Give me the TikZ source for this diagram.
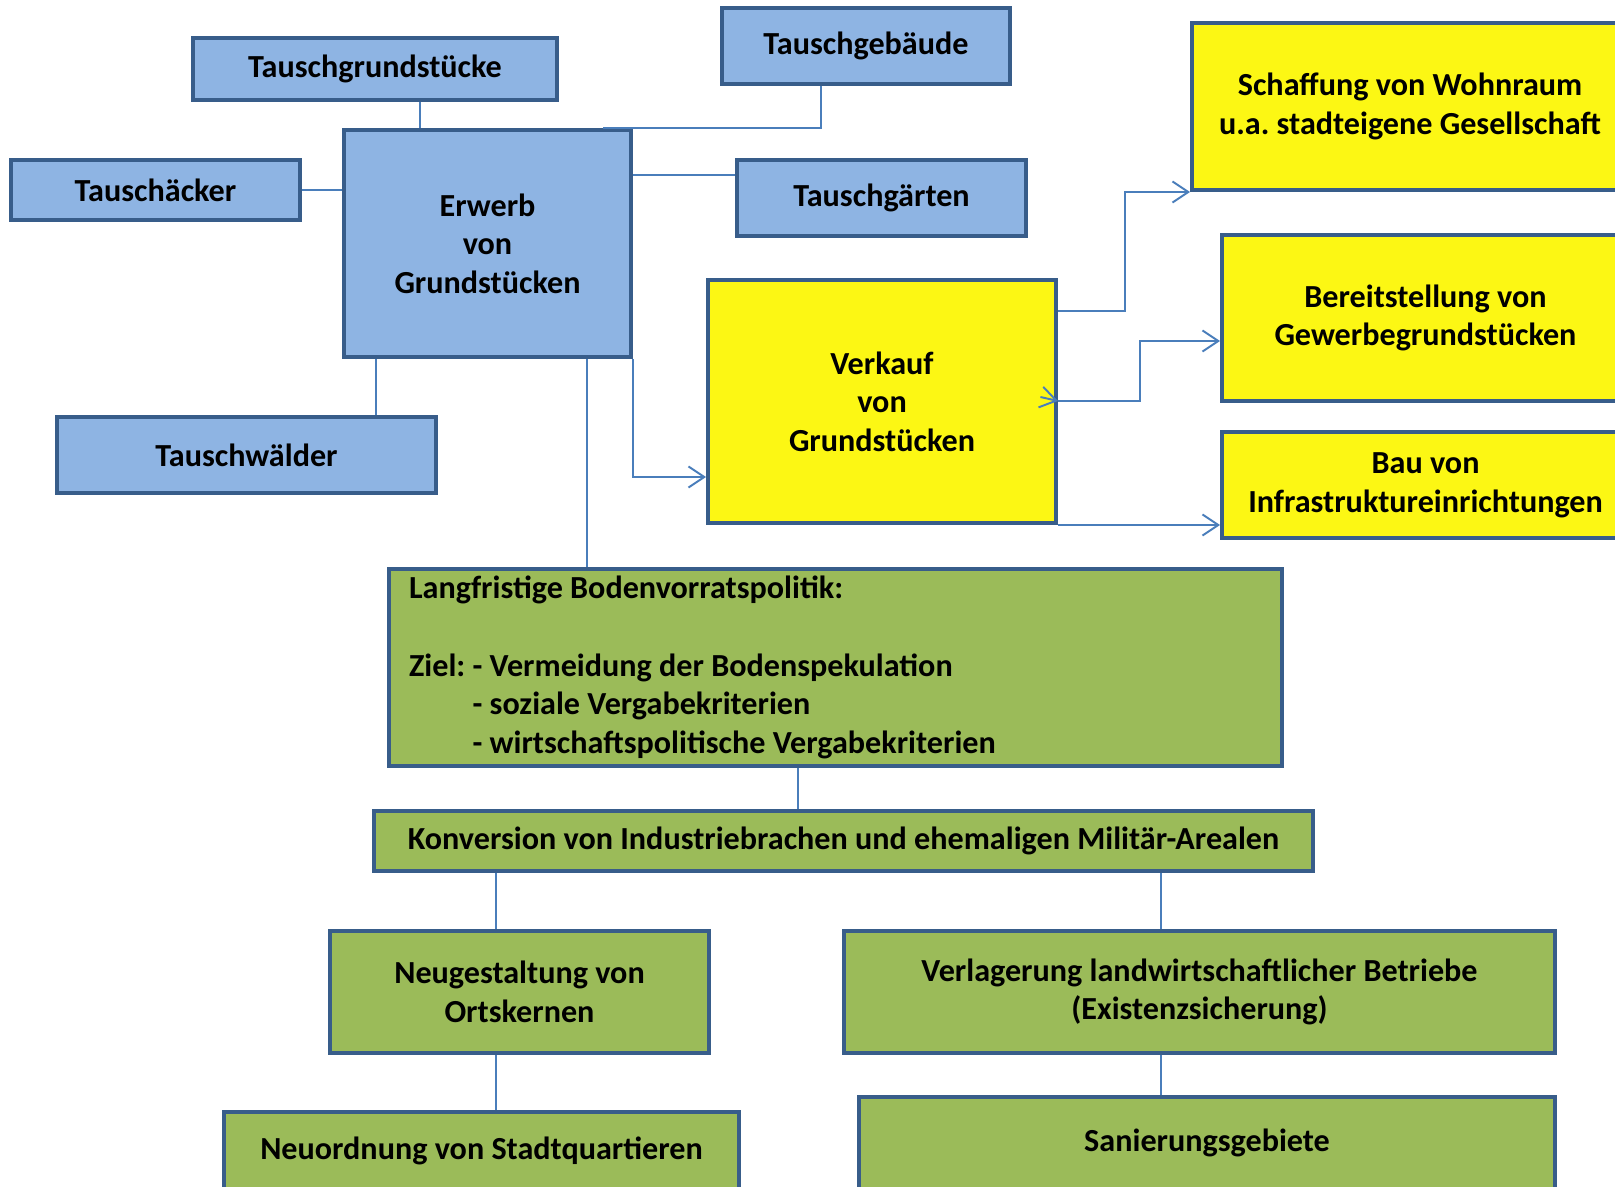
\documentclass[tikz,border=0pt]{standalone}
\usepackage{fontspec}
\setmainfont{Carlito}
\frenchspacing
\usetikzlibrary{arrows.meta, positioning}

\definecolor{boxblue}{RGB}{142,180,227}
\definecolor{boxline}{RGB}{56,93,138}
\definecolor{boxyellow}{RGB}{252,247,20}
\definecolor{boxgreen}{RGB}{155,187,89}
\definecolor{linkblue}{RGB}{74,126,187}

\tikzset{
    box/.style={draw=boxline, line width=2.3pt, align=center, inner sep=0pt,
        font=\fontsize{18.3}{22}\selectfont\bfseries},
    bluebox/.style={box, fill=boxblue},
    yellowbox/.style={box, fill=boxyellow},
    greenbox/.style={box, fill=boxgreen},
    link/.style={draw=linkblue, line width=1.1pt},
}

\begin{document}
\begin{tikzpicture}[x=0.02cm, y=-0.02cm, >={Straight Barb[length=9pt,width=12pt]}]
            \useasboundingbox (0,0) rectangle (1615,1186);

            % Erwerb und Tausch
            \node [bluebox, minimum width=5.74cm, minimum height=4.54cm] (erw) at (487.5,243.5) {Erwerb\\von\\Grundstücken};
            \node [bluebox, minimum width=7.28cm, minimum height=1.24cm] (tgs) at (375,69) {Tauschgrundstücke};
            \node [bluebox, minimum width=5.76cm, minimum height=1.52cm] (tgb) at (866,46) {Tauschgebäude};
            \node [bluebox, minimum width=5.78cm, minimum height=1.2cm] (tae) at (155.5,190) {Tauschäcker};
            \node [bluebox, minimum width=5.78cm, minimum height=1.52cm] (tga) at (881.5,198) {Tauschgärten};
            \node [bluebox, minimum width=7.58cm, minimum height=1.52cm] (twa) at (246.5,455) {Tauschwälder};

            \draw [link] (tgs.south -| 420,0) -- (erw.north -| 420,0);
            \draw [link] (tgb.south -| 821,0) |- (erw.north -| 603,0);
            \draw [link] (tae.east) -- (tae.east -| erw.west);
            \draw [link] (erw.east |- 0,175) -- (tga.west |- 0,175);
            \draw [link] (erw.south -| 376,0) -- (twa.north -| 376,0);

            % Verkauf
            \node [yellowbox, minimum width=6.96cm, minimum height=4.86cm] (vkf) at (882,401.5) {Verkauf\\von\\Grundstücken};
            \node [yellowbox, minimum width=8.72cm, minimum height=3.34cm] (swr) at (1410,106.5) {Schaffung von Wohnraum\\u.a. stadteigene Gesellschaft};
            \node [yellowbox, minimum width=8.14cm, minimum height=3.32cm] (bgw) at (1425.5,318) {Bereitstellung von\\Gewerbegrundstücken};
            \node [yellowbox, minimum width=8.14cm, minimum height=2.12cm] (bau) at (1425.5,485) {Bau von\\Infrastruktureinrichtungen};

            \draw [link, ->] (erw.south east) |- (vkf.west |- 0,477);
            \draw [link, ->] (vkf.east |- 0,311) -- ++(67,0) |- (swr.south west);
            \draw [link, ->] (vkf.east |- 0,401) -- ++(82,0) |- (bgw.west |- 0,341);
            \draw [link, ->] ([xshift=-10pt]vkf.east |- 0,397) -- (vkf.east |- 0,401);
            \draw [link, ->] (vkf.south east) -- (vkf.south east -| bau.west);

            % Bodenvorrat
            \node [greenbox, align=flush left, text width=17.06cm, inner xsep=0.36cm, minimum width=17.86cm, minimum height=3.94cm] (lbp) at (835.5,667.5)
                {Langfristige Bodenvorratspolitik:\\[22pt]
                 Ziel: - Vermeidung der Bodenspekulation\\
                 \hphantom{Ziel:}\ - soziale Vergabekriterien\\
                 \hphantom{Ziel:}\ - wirtschaftspolitische Vergabekriterien};
            \node [greenbox, minimum width=18.78cm, minimum height=1.2cm] (kon) at (843.5,841) {Konversion von Industriebrachen und ehemaligen Militär-Arealen};
            \node [greenbox, minimum width=7.58cm, minimum height=2.44cm] (ngo) at (519.5,992) {Neugestaltung von\\Ortskernen};
            \node [greenbox, minimum width=14.22cm, minimum height=2.44cm] (vlb) at (1199.5,992) {Verlagerung landwirtschaftlicher Betriebe\\(Existenzsicherung)};
            \node [greenbox, minimum width=10.3cm, minimum height=1.56cm] (nsq) at (481.5,1151) {Neuordnung von Stadtquartieren};
            \node [greenbox, minimum width=13.92cm, minimum height=1.84cm] (sgb) at (1207,1143) {Sanierungsgebiete};

            \draw [link] (erw.south -| 587,0) -- (lbp.north -| 587,0);
            \draw [link] (lbp.south -| 798,0) -- (kon.north -| 798,0);
            \draw [link] (kon.south -| 496,0) -- (ngo.north -| 496,0);
            \draw [link] (kon.south -| 1161,0) -- (vlb.north -| 1161,0);
            \draw [link] (ngo.south -| 496,0) -- (nsq.north -| 496,0);
            \draw [link] (vlb.south -| 1161,0) -- (sgb.north -| 1161,0);
\end{tikzpicture}
\end{document}
